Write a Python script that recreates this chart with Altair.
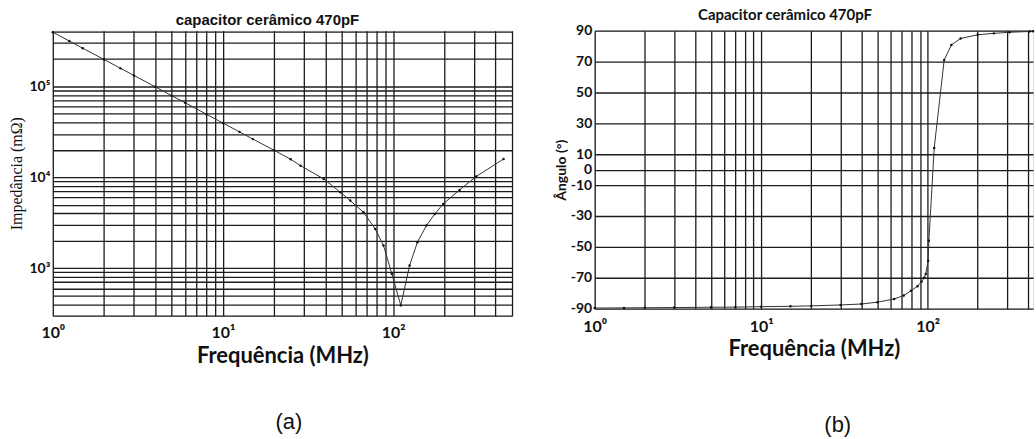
import altair as alt
import pandas as pd

# Impedance sweep of a 470 pF ceramic capacitor: frequency (MHz) vs |Z| (mΩ)
imp_freq = [1, 1.25, 1.5, 2, 2.5, 3, 4, 5, 6, 8, 10, 12.5, 15, 20, 25, 28.6,
            39.1, 49, 56, 67, 78.5, 87.8, 98.3, 111, 125, 139, 157, 176, 197,
            246, 308, 446]
imp_mag = [395000, 316000, 263000, 198000, 158000, 132000, 99000, 79000,
           66000, 49400, 39500, 31600, 26300, 19800, 15800, 13400, 9590, 6840,
           5540, 4120, 2700, 1775, 865, 389, 1070, 1930, 2940, 3950, 5090,
           7260, 10200, 15900]

# Phase sweep of the same part: frequency (MHz) vs angle (degrees)
ph_freq = [1, 1.5, 2, 3, 5, 7, 10, 15, 20, 30, 40, 50, 63, 72, 79.5, 87,
           92, 95.5, 97.5, 100.8, 101.8, 109.6, 125.8, 139, 158, 200, 250,
           311, 410, 430]
ph_deg = [-89.6, -89.5, -89.4, -89.3, -89.1, -89.0, -88.7, -88.5, -88.2,
          -87.6, -87.0, -85.8, -83.7, -81.5, -78.4, -75.5, -72.5, -70.0,
          -67.6, -59.0, -46.0, 14.0, 71.0, 80.8, 85.0, 87.4, 88.3, 89.0,
          89.5, 89.6]

titles = ["capacitor cerâmico 470pF", "Capacitor cerâmico 470pF"]
x_title = "Frequência (MHz)"
y_titles = ["Impedância (mΩ)", "Ângulo (°)"]
captions = ["(a)", "(b)"]

# Log-decade grid positions
x_grid_a = [m * 10 ** k for k in range(3) for m in range(1, 10) if m * 10 ** k <= 500]
x_grid_b = [m * 10 ** k for k in range(3) for m in range(1, 10) if m * 10 ** k <= 400]
y_grid_a = [m * 10 ** k for k in range(2, 6) for m in range(1, 10)
            if 300 <= m * 10 ** k <= 400000]
y_ticks_b = [-90, -70, -50, -30, -10, 0, 10, 30, 50, 70, 90]

x_label_expr = ("datum.value == 1 ? '10⁰' : datum.value == 10 ? '10¹' : "
                "datum.value == 100 ? '10²' : ''")
y_label_expr_a = ("datum.value == 1000 ? '10³' : datum.value == 10000 ? '10⁴' : "
                  "datum.value == 100000 ? '10⁵' : ''")

GRID = "#1c1c1c"
LINE = "#333333"
SANS = "Lato"


def x_axis(values, pad, title_pad):
    return alt.Axis(values=values, labelExpr=x_label_expr, title=x_title,
                    grid=True, gridColor=GRID, gridWidth=1.3, gridOpacity=1,
                    ticks=False, domain=False, labelFont=SANS, labelFontSize=16,
                    labelFontWeight="bold", labelColor="#111", labelPadding=pad,
                    labelFlush=False, titleFont=SANS, titleFontSize=22,
                    titleFontWeight="bold", titleColor="#111",
                    titlePadding=title_pad)


# (a) impedance magnitude
imp_df = pd.DataFrame({"f": imp_freq, "z": imp_mag})
xa = alt.X("f:Q", scale=alt.Scale(type="log", domain=[1, 500], nice=False),
           axis=x_axis(x_grid_a, 9, 5))
ya = alt.Y("z:Q", scale=alt.Scale(type="log", domain=[300, 410000], nice=False),
           axis=alt.Axis(values=y_grid_a, labelExpr=y_label_expr_a,
                         title=y_titles[0], grid=True, gridColor=GRID,
                         gridWidth=1.3, gridOpacity=1, ticks=False, domain=False,
                         labelFont=SANS, labelFontSize=14, labelFontWeight="bold",
                         labelColor="#111", labelPadding=3, labelFlush=False,
                         titleFont="Liberation Serif", titleFontSize=16,
                         titleFontWeight="normal", titleColor="#111",
                         titlePadding=4))
line_a = alt.Chart(imp_df).mark_line(
    color=LINE, strokeWidth=1,
    point=alt.OverlayMarkDef(size=6, color="#111", filled=True)
).encode(x=xa, y=ya)
cap_a = alt.Chart(pd.DataFrame({"t": [captions[0]]})).mark_text(
    font="Liberation Sans", fontSize=22, color="#111"
).encode(x=alt.value(237), y=alt.value(393), text="t:N")
panel_a = alt.layer(line_a, cap_a).properties(
    width=461, height=286,
    title=alt.TitleParams(titles[0], font="Liberation Sans", fontSize=15,
                          fontWeight="bold", color="#111", anchor="middle",
                          dx=-15, offset=2))

# (b) phase angle
ph_df = pd.DataFrame({"f": ph_freq, "p": ph_deg})
xb = alt.X("f:Q", scale=alt.Scale(type="log", domain=[1, 430], nice=False),
           axis=x_axis(x_grid_b, 10, 4))
yb = alt.Y("p:Q", scale=alt.Scale(domain=[-90, 90], nice=False, zero=False),
           axis=alt.Axis(values=y_ticks_b, labelExpr="'' + datum.value",
                         title=y_titles[1], grid=True,
                         gridColor=GRID, gridWidth=1.3, gridOpacity=1,
                         ticks=False, domain=False, labelFont=SANS,
                         labelFontSize=14, labelFontWeight="bold",
                         labelColor="#111", labelPadding=3, labelFlush=False,
                         labelOverlap=False,
                         titleFont=SANS, titleFontSize=14, titleFontWeight="bold",
                         titleColor="#111", titlePadding=2))
line_b = alt.Chart(ph_df).mark_line(
    color=LINE, strokeWidth=1,
    point=alt.OverlayMarkDef(size=6, color="#111", filled=True)
).encode(x=xb, y=yb)
cap_b = alt.Chart(pd.DataFrame({"t": [captions[1]]})).mark_text(
    font="Liberation Sans", fontSize=22, color="#111"
).encode(x=alt.value(244), y=alt.value(396), text="t:N")
panel_b = alt.layer(line_b, cap_b).properties(
    width=440, height=279,
    title=alt.TitleParams(titles[1], font=SANS, fontSize=15, fontWeight="bold",
                          color="#111", anchor="middle", dx=-29, offset=1))

chart = alt.hconcat(panel_a, panel_b, spacing=41).properties(
    padding={"left": 8, "top": 6, "right": 0, "bottom": 0}
).configure_view(stroke="#111", strokeWidth=1.5).configure(background="white")

chart.save("out.html", embed_options={"renderer": "svg", "actions": False})
